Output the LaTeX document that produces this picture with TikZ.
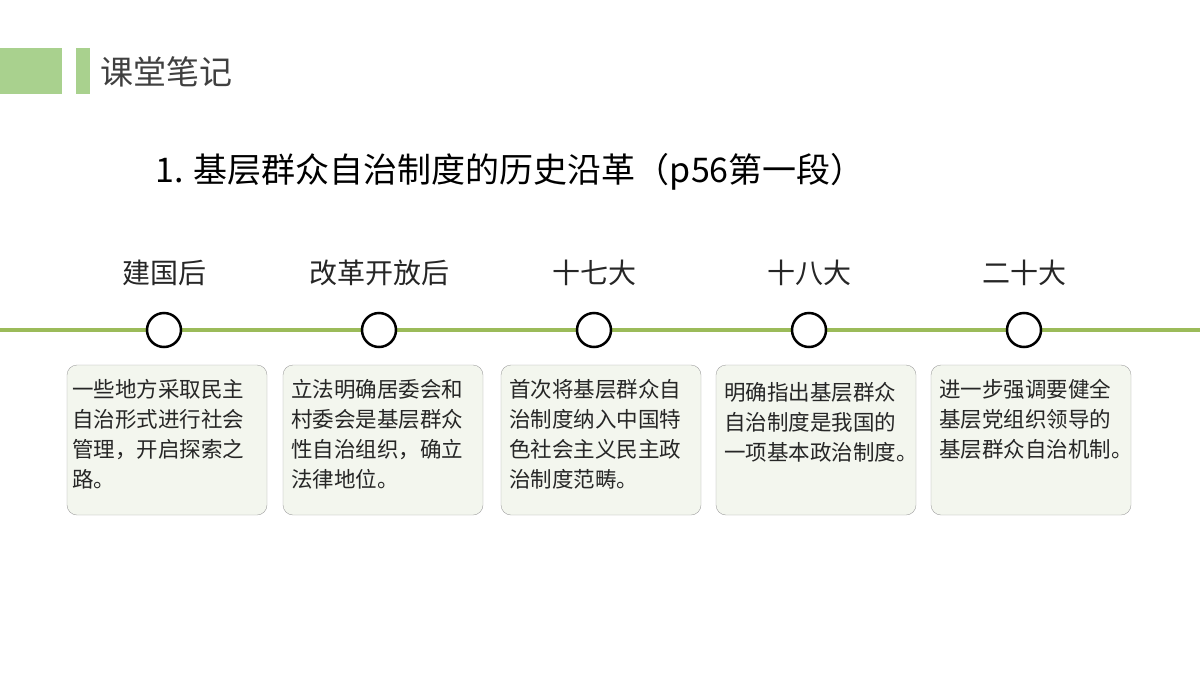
\documentclass[tikz,border=0pt]{standalone}
\usepackage{fontspec}
\setmainfont{Noto Sans CJK SC}
\usepackage{xcolor}
\usetikzlibrary{positioning}
\definecolor{leafgreen}{HTML}{A9D18E}
\definecolor{linegreen}{HTML}{9BBB59}
\definecolor{notefill}{HTML}{F3F6EE}
\definecolor{noteline}{HTML}{A0A0A0}

\begin{document}
\begin{tikzpicture}[
    x=1pt, y=-1pt,
    stage/.style={font=\fontsize{28}{30}\selectfont, text=black!85},
    dot/.style={circle, draw=black, line width=2.5pt, fill=white, minimum size=34pt, inner sep=0pt},
    notebox/.style={draw=noteline, fill=notefill, rounded corners=10pt, minimum width=200pt, minimum height=150pt, inner sep=0pt},
    notetext/.style={anchor=north west, align=left, inner sep=0pt, font=\fontsize{21.5}{30}\selectfont, text=black!85}
]
  \useasboundingbox (0,0) rectangle (1200,675);

  % Header
  \fill[leafgreen] (0,48) rectangle (62,94);
  \fill[leafgreen] (76,48) rectangle (90,94);
  \node[anchor=west, font=\fontsize{33}{36}\selectfont, text=black!75] (head) at (97,72) {课堂笔记};
  \node[anchor=west, font=\fontsize{34}{38}\selectfont] (title) at (152,172) {1. 基层群众自治制度的历史沿革（p56第一段）};

  % Timeline
  \draw[linegreen, line width=4pt] (0,330) -- (1200,330);

  % Stages
  \foreach \i/\x/\bx/\lbl in {1/164/167/建国后, 2/379/383/改革开放后, 3/594/601/十七大, 4/809/816/十八大, 5/1024/1031/二十大} {
    \node[stage] (s\i) at (\x,273) {\lbl};
    \node[dot] (d\i) at (\x,330) {};
    \node[notebox] (b\i) at (\bx,440) {};
  }

  % Notes
  \node[notetext] (t1) at ([xshift=5pt, yshift=-14pt]b1.north west) {一些地方采取民主\\自治形式进行社会\\管理，开启探索之\\路。};
  \node[notetext] (t2) at ([xshift=8pt, yshift=-14pt]b2.north west) {立法明确居委会和\\村委会是基层群众\\性自治组织，确立\\法律地位。};
  \node[notetext] (t3) at ([xshift=8pt, yshift=-14pt]b3.north west) {首次将基层群众自\\治制度纳入中国特\\色社会主义民主政\\治制度范畴。};
  \node[notetext] (t4) at ([xshift=8pt, yshift=-17pt]b4.north west) {明确指出基层群众\\自治制度是我国的\\一项基本政治制度。};
  \node[notetext] (t5) at ([xshift=8pt, yshift=-14pt]b5.north west) {进一步强调要健全\\基层党组织领导的\\基层群众自治机制。};

\end{tikzpicture}
\end{document}
